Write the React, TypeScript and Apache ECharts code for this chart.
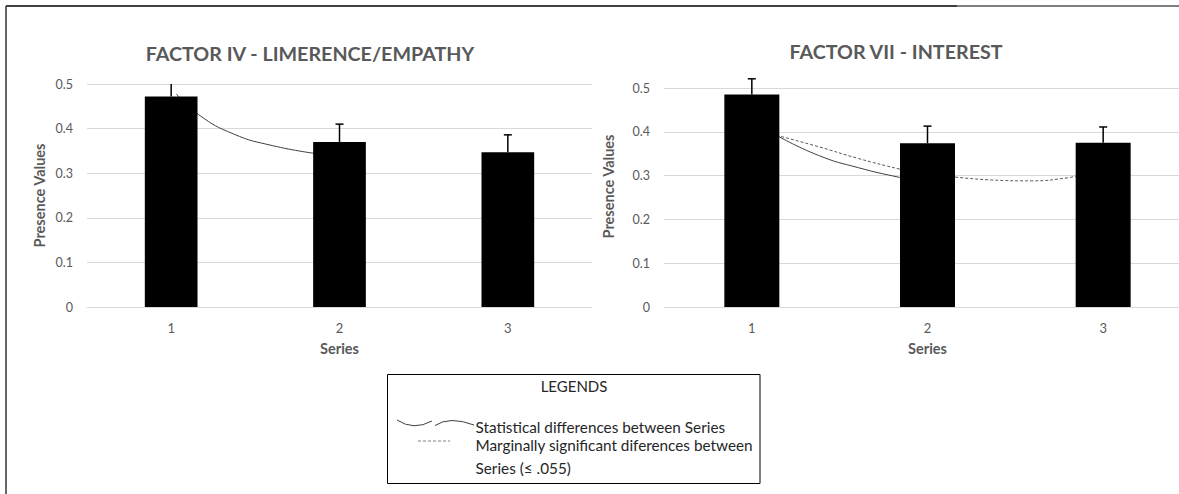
import React, { useEffect, useRef } from "react";
import * as echarts from "echarts";

const categories = ["1", "2", "3"];
const leftTitle = "FACTOR IV - LIMERENCE/EMPATHY";
const rightTitle = "FACTOR VII - INTEREST";
const leftValues = [0.472, 0.37, 0.347];
const leftErrTop = [0.51, 0.41, 0.386];
const rightValues = [0.485, 0.374, 0.375];
const rightErrTop = [0.521, 0.413, 0.411];
const leftCurve = [
  [1.03, 0.478],
  [1.164, 0.431],
  [1.37, 0.388],
  [1.6, 0.362],
  [1.86, 0.344],
];
const rightSolidCurve = [
  [1.14, 0.392],
  [1.38, 0.346],
  [1.607, 0.318],
  [1.84, 0.296],
  [1.88, 0.294],
];
const rightDashedCurve1 = [
  [1.14, 0.392],
  [1.38, 0.366],
  [1.607, 0.339],
  [1.84, 0.315],
  [1.88, 0.312],
];
const rightDashedCurve2 = [
  [2.13, 0.298],
  [2.364, 0.29],
  [2.592, 0.288],
  [2.8, 0.295],
  [2.86, 0.301],
];
const yMin = 0;
const yMax = 0.5;
const yInterval = 0.1;
const legendTitle = "LEGENDS";
const legendItem1 = "Statistical differences between Series";
const legendItem2a = "Marginally significant diferences between";
const legendItem2b = "Series (≤ .055)";

const FONT = "Lato, 'Open Sans', sans-serif";
const GRAY = "#595959";
const GRID = "#d9d9d9";

function errorRender(params: any, api: any) {
  const x = api.value(0);
  const lo = api.coord([x, api.value(1)]);
  const hi = api.coord([x, api.value(2)]);
  const st = { stroke: "#000", lineWidth: 1.5 };
  return {
    type: "group",
    children: [
      { type: "line", shape: { x1: lo[0], y1: lo[1], x2: hi[0], y2: hi[1] }, style: st },
      { type: "line", shape: { x1: hi[0] - 4, y1: hi[1], x2: hi[0] + 4, y2: hi[1] }, style: st },
    ],
  };
}

function catAxis(gridIndex: number) {
  return {
    type: "category",
    gridIndex,
    data: categories,
    axisLine: { lineStyle: { color: GRID, width: 1 } },
    axisTick: { show: false },
    axisLabel: { color: GRAY, fontFamily: FONT, fontSize: 13, margin: 14 },
    name: "Series",
    nameLocation: "middle",
    nameGap: 34,
    nameTextStyle: { color: GRAY, fontFamily: FONT, fontSize: 14.5, fontWeight: "bold" },
  };
}

function valAxis(gridIndex: number, nameGap: number, padding: number[]) {
  return {
    type: "value",
    gridIndex,
    min: yMin,
    max: yMax,
    interval: yInterval,
    axisLine: { show: false },
    axisTick: { show: false },
    splitLine: { lineStyle: { color: GRID, width: 1 } },
    axisLabel: { color: GRAY, fontFamily: FONT, fontSize: 12.5, margin: 14 },
    name: "Presence Values",
    nameLocation: "middle",
    nameGap,
    nameTextStyle: { color: GRAY, fontFamily: FONT, fontSize: 14.5, fontWeight: "bold", padding },
  };
}

function hiddenX(gridIndex: number) {
  return { type: "value", gridIndex, min: 0.5, max: 3.5, show: false };
}

function curve(data: number[][], xi: number, yi: number, dashed: boolean) {
  return {
    type: "line",
    xAxisIndex: xi,
    yAxisIndex: yi,
    data,
    smooth: 0.5,
    symbol: "none",
    z: 1,
    lineStyle: dashed
      ? { color: "#595959", width: 1, type: [3, 2] }
      : { color: "#404040", width: 1 },
    silent: true,
  };
}

function txt(text: string, x: number, y: number, size: number, opts: any = {}) {
  return {
    type: "text",
    x,
    y,
    style: {
      text,
      fill: opts.fill || "#262626",
      font: `${opts.weight || "normal"} ${size}px ${FONT}`,
      align: opts.align || "left",
      textAlign: opts.align || "left",
      verticalAlign: "middle",
      textVerticalAlign: "middle",
    },
  };
}

export default function App() {
  const ref = useRef<HTMLDivElement>(null);
  useEffect(() => {
    const chart = echarts.init(ref.current!, null, { renderer: "svg" });
    chart.setOption({
      animation: false,
      backgroundColor: "#fff",
      grid: [
        { left: 87, top: 84, width: 505, height: 223 },
        { left: 664, top: 88, width: 527, height: 219 },
      ],
      xAxis: [catAxis(0), catAxis(1), hiddenX(0), hiddenX(1)],
      yAxis: [valAxis(0, 40, [0, 0, 0, 0]), valAxis(1, 48, [0, 0, 0, 22])],
      series: [
        curve(leftCurve, 2, 0, false),
        curve(rightSolidCurve, 3, 1, false),
        curve(rightDashedCurve1, 3, 1, true),
        curve(rightDashedCurve2, 3, 1, true),
        {
          type: "bar",
          xAxisIndex: 0,
          yAxisIndex: 0,
          data: leftValues,
          barWidth: "31.3%",
          itemStyle: { color: "#000" },
          z: 3,
        },
        {
          type: "bar",
          xAxisIndex: 1,
          yAxisIndex: 1,
          data: rightValues,
          barWidth: "31.3%",
          itemStyle: { color: "#000" },
          z: 3,
        },
        {
          type: "custom",
          xAxisIndex: 0,
          yAxisIndex: 0,
          clip: true,
          z: 4,
          renderItem: errorRender,
          encode: { x: 0, y: [1, 2] },
          data: leftValues.map((v, i) => [i, v, leftErrTop[i]]),
        },
        {
          type: "custom",
          xAxisIndex: 1,
          yAxisIndex: 1,
          clip: false,
          z: 4,
          renderItem: errorRender,
          encode: { x: 0, y: [1, 2] },
          data: rightValues.map((v, i) => [i, v, rightErrTop[i]]),
        },
      ],
      graphic: [
        { type: "line", shape: { x1: 6, y1: 6, x2: 957, y2: 6 }, style: { stroke: "#404040", lineWidth: 2 } },
        { type: "line", shape: { x1: 957, y1: 6, x2: 1200, y2: 6 }, style: { stroke: "#000", lineWidth: 1 } },
        { type: "line", shape: { x1: 6, y1: 6, x2: 6, y2: 494 }, style: { stroke: "#333", lineWidth: 1.5 } },
        txt(leftTitle, 310, 53, 19.7, { align: "center", weight: "bold", fill: GRAY }),
        txt(rightTitle, 896, 51, 19.7, { align: "center", weight: "bold", fill: GRAY }),
        {
          type: "rect",
          shape: { x: 387.5, y: 374.5, width: 372.5, height: 109 },
          style: { fill: "#fff", stroke: "#000", lineWidth: 1 },
        },
        txt(legendTitle, 574, 386, 15, { align: "center" }),
        {
          type: "bezierCurve",
          shape: { x1: 397, y1: 420, cpx1: 413.5, cpy1: 431, x2: 432, y2: 421 },
          style: { stroke: "#404040", lineWidth: 1, fill: null },
        },
        {
          type: "bezierCurve",
          shape: { x1: 435, y1: 425.5, cpx1: 449.5, cpy1: 415.8, x2: 474, y2: 425 },
          style: { stroke: "#404040", lineWidth: 1, fill: null },
        },
        txt(legendItem1, 475.5, 426.5, 15.3),
        {
          type: "line",
          shape: { x1: 418, y1: 441, x2: 450, y2: 441 },
          style: { stroke: "#7f7f7f", lineWidth: 1, lineDash: [3, 2] },
        },
        txt(legendItem2a, 475.5, 445, 15.3),
        txt(legendItem2b, 475.5, 468, 15.3),
      ],
    });
    return () => chart.dispose();
  }, []);
  return (
    <div
      ref={ref}
      style={{ position: "fixed", left: 0, top: 0, width: 1200, height: 494 }}
    />
  );
}
